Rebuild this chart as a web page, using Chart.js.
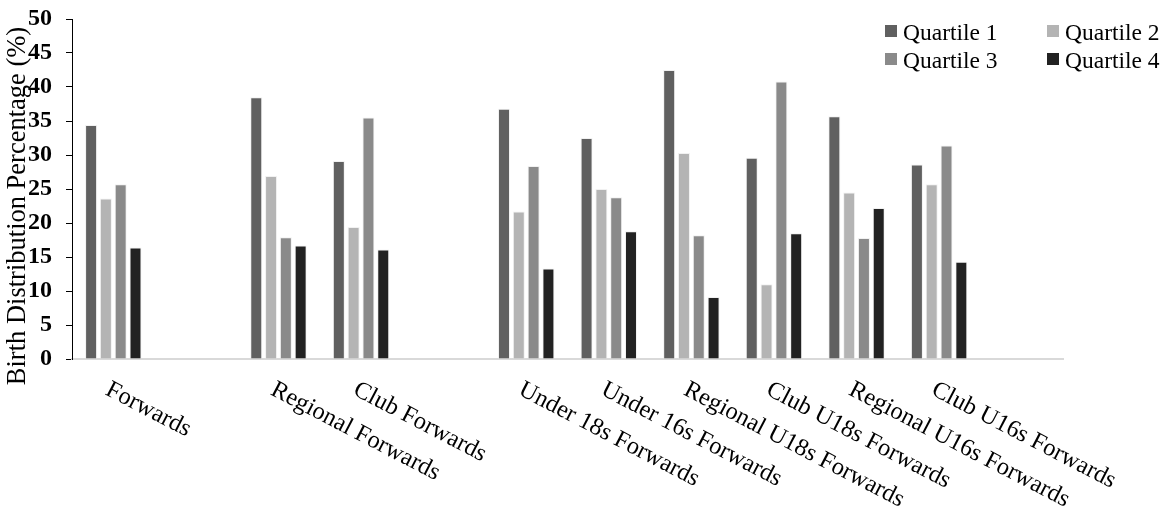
<!DOCTYPE html>
<html>
<head>
<meta charset="utf-8">
<script src="https://cdn.jsdelivr.net/npm/chart.js@4/dist/chart.umd.min.js"></script>
<style>
  body { margin: 0; background: #fff; }
  #wrap { width: 1168px; height: 518px; }
</style>
</head>
<body>
<div id="wrap"><canvas id="myChart" width="1168" height="518"></canvas></div>
<script>
// categories (empty strings are the gaps between groups)
const categories = ['Forwards', '', 'Regional Forwards', 'Club Forwards', '',
  'Under 18s Forwards', 'Under 16s Forwards', 'Regional U18s Forwards',
  'Club U18s Forwards', 'Regional U16s Forwards', 'Club U16s Forwards', ''];

const quartile1 = [34.4, null, 38.5, 29.1, null, 36.8, 32.5, 42.5, 29.6, 35.7, 28.6, null];
const quartile2 = [23.6, null, 26.9, 19.4, null, 21.7, 25.0, 30.3, 11.0, 24.5, 25.7, null];
const quartile3 = [25.7, null, 17.9, 35.5, null, 28.4, 23.8, 18.2, 40.8, 17.8, 31.4, null];
const quartile4 = [16.4, null, 16.7, 16.1, null, 13.3, 18.8, 9.1, 18.5, 22.2, 14.3, null];

const seriesNames = ['Quartile 1', 'Quartile 2', 'Quartile 3', 'Quartile 4'];
const seriesColors = ['#606060', '#b4b4b4', '#8a8a8a', '#222222'];
const yTicks = [0, 5, 10, 15, 20, 25, 30, 35, 40, 45, 50];
const yTitle = 'Birth Distribution Percentage (%)';

const serif = "'Liberation Serif', 'Times New Roman', serif";

// draws rotated category labels, the y title and the legend
const extras = {
  id: 'extras',
  afterDraw(chart) {
    const ctx = chart.ctx;
    const xs = chart.scales.x;
    const area = chart.chartArea;
    const ang = 27.5 * Math.PI / 180;

    ctx.save();
    ctx.fillStyle = '#000';
    ctx.font = '24.5px ' + serif;
    ctx.textAlign = 'left';
    ctx.textBaseline = 'alphabetic';
    categories.forEach((lab, i) => {
      if (!lab) return;
      const x = xs.getPixelForValue(i);
      ctx.save();
      ctx.translate(x - 9, area.bottom + 35);
      ctx.rotate(ang);
      ctx.fillText(lab, 0, 0);
      ctx.restore();
    });

    // y axis title
    ctx.save();
    ctx.font = '26.5px ' + serif;
    ctx.textAlign = 'center';
    ctx.translate(25, 206);
    ctx.rotate(-Math.PI / 2);
    ctx.fillText(yTitle, 0, 0);
    ctx.restore();

    // legend, 2 x 2
    ctx.font = '23.5px ' + serif;
    const colX = [885, 1047];
    const rowY = [25, 53];
    chart.data.datasets.forEach((ds, i) => {
      const bx = colX[i % 2];
      const by = rowY[Math.floor(i / 2)];
      ctx.fillStyle = ds.backgroundColor;
      ctx.fillRect(bx, by, 12, 12);
      ctx.fillStyle = '#000';
      ctx.fillText(ds.label, bx + 18, by + 15);
    });
    ctx.restore();
  }
};

const ctx = document.getElementById('myChart').getContext('2d');
const myChart = new Chart(ctx, {
  type: 'bar',
  data: {
    labels: categories,
    datasets: [quartile1, quartile2, quartile3, quartile4].map((d, i) => ({
      label: seriesNames[i],
      data: d,
      backgroundColor: seriesColors[i],
      borderColor: 'rgba(235,235,235,0.7)',
      borderWidth: 1,
      categoryPercentage: 0.717,
      barPercentage: 0.81
    }))
  },
  options: {
    responsive: false,
    animation: false,
    devicePixelRatio: 1,
    layout: { padding: { left: 0, top: 19, right: 105, bottom: 0 } },
    plugins: {
      legend: { display: false },
      title: { display: false },
      tooltip: { enabled: false }
    },
    scales: {
      x: {
        grid: { display: false },
        border: { color: '#d9d9d9', width: 2 },
        ticks: { display: false },
        afterFit(scale) {
          scale.height = 159;
          scale.paddingLeft = 0;
          scale.paddingRight = 0;
        }
      },
      y: {
        min: 0,
        max: 50,
        afterBuildTicks(scale) { scale.ticks = yTicks.map(v => ({ value: v })); },
        grid: { drawOnChartArea: false, drawTicks: true, tickLength: 6, color: '#000' },
        border: { color: '#000', width: 1 },
        ticks: {
          color: '#000',
          padding: 14,
          font: { family: serif, size: 24, weight: 'bold' }
        },
        afterFit(scale) {
          scale.width = 72;
          scale.paddingTop = 0;
          scale.paddingBottom = 0;
        }
      }
    }
  },
  plugins: [extras]
});
</script>
</body>
</html>
